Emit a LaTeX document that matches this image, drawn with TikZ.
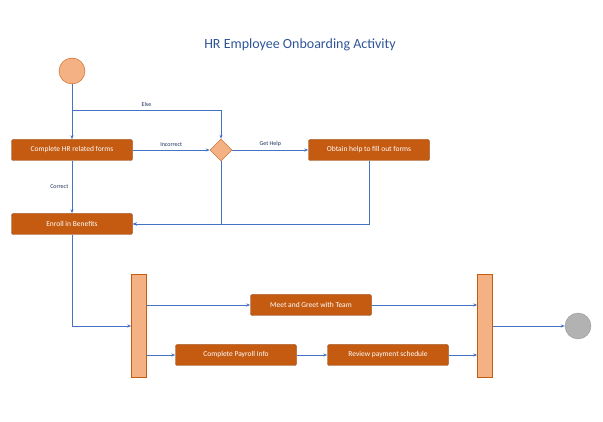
\documentclass[tikz,border=0pt]{standalone}
\usepackage{fontspec}
\setmainfont{Carlito}
\usetikzlibrary{shapes.geometric,arrows.meta}
\definecolor{act}{HTML}{C55A11}
\definecolor{lite}{HTML}{F4B183}
\definecolor{flow}{HTML}{4472C4}
\definecolor{ttl}{HTML}{2F5597}
\tikzset{
  task/.style={draw=act!70!black,fill=act,rounded corners=2pt,text=white,minimum width=121pt,minimum height=21pt,font=\fontsize{7.5}{9}\selectfont,inner sep=1pt},
  bar/.style={draw=act,fill=lite,minimum width=15pt,minimum height=103pt,inner sep=0pt},
  lnk/.style={draw=flow,thick,-{Stealth[length=4pt,width=3pt]}},
  lbl/.style={font=\fontsize{6}{7}\selectfont,text=ttl!60!black}
}
\begin{document}
\begin{tikzpicture}[x=1pt,y=-1pt]
  \useasboundingbox (0,0) rectangle (603,422);
  \node[text=ttl,font=\fontsize{14}{16}\selectfont] (title) at (300,45) {HR Employee Onboarding Activity};
  \node[circle,draw=act,fill=lite,minimum size=26pt] (start) at (72,71) {};
  \node[task] (forms) at (72,150) {Complete HR related forms};
  \node[diamond,draw=act,fill=lite,minimum size=22pt,inner sep=0pt] (dec) at (221,150) {};
  \node[task] (help) at (369,150) {Obtain help to fill out forms};
  \node[task] (enrol) at (72,224) {Enroll in Benefits};
  \node[bar] (fork) at (139,326) {};
  \node[task] (meet) at (311,305) {Meet and Greet with Team};
  \node[task] (pay) at (236,355) {Complete Payroll Info};
  \node[task] (review) at (388,355) {Review payment schedule};
  \node[bar] (join) at (485,326) {};
  \node[circle,draw=gray!80,fill=gray!60,minimum size=26pt] (stop) at (578,326) {};
  \coordinate (split) at (72,110);
  % flows
  \draw[lnk] (start) -- (forms);
  \draw[lnk] (split) -- (split -| dec.north) node[lbl,midway,above] {Else} -- (dec.north);
  \draw[lnk] (forms) -- (dec) node[lbl,midway,above] {Incorrect};
  \draw[lnk] (dec) -- (help) node[lbl,midway,above] {Get Help};
  \draw[lnk] (forms) -- (enrol) node[lbl,midway,left] {Correct};
  \draw[lnk] (dec.south) |- (enrol.east);
  \draw[lnk] (help.south) |- (enrol.east);
  \draw[lnk] (enrol.south) |- (fork.west);
  \draw[lnk] (fork.east |- meet) -- (meet);
  \draw[lnk] (meet) -- (join.west |- meet);
  \draw[lnk] (fork.east |- pay) -- (pay);
  \draw[lnk] (pay) -- (review);
  \draw[lnk] (review) -- (join.west |- review);
  \draw[lnk] (join) -- (stop);
\end{tikzpicture}
\end{document}
